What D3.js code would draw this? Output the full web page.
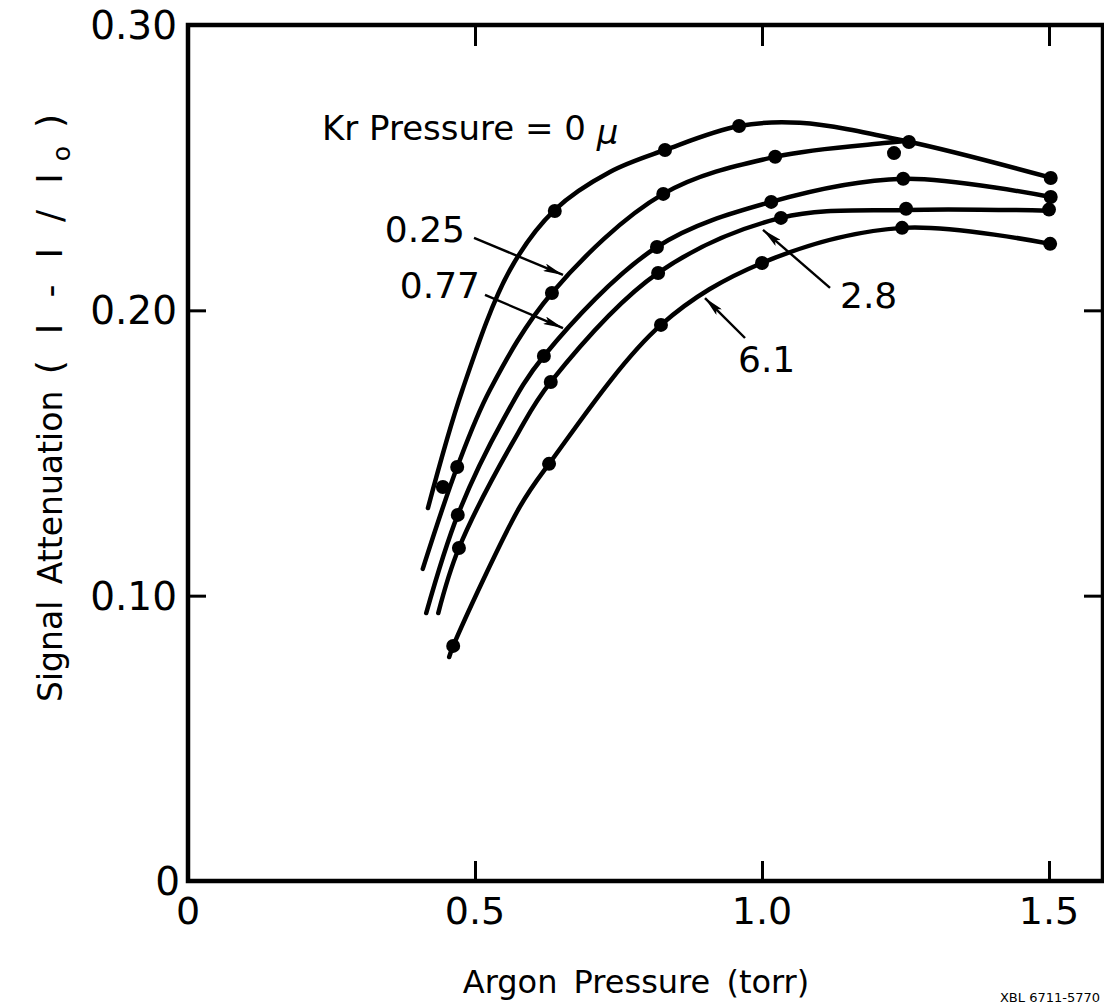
<!DOCTYPE html>
<html><head><meta charset="utf-8">
<script src="https://cdn.jsdelivr.net/npm/d3@7"></script>
<style>
html,body{margin:0;padding:0;background:#fff;}
svg{display:block;}
text{font-family:"DejaVu Sans",sans-serif;fill:#000;}
</style></head>
<body>
<svg id="chart" width="1104" height="1005"></svg>
<script>
// ---- data (Argon pressure in torr, signal attenuation 1 - I/I0) ----
const xTickValues = [0, 0.5, 1.0, 1.5];
const xTickLabels = ["0", "0.5", "1.0", "1.5"];
const yTickValues = [0, 0.10, 0.20, 0.30];
const yTickLabels = ["0", "0.10", "0.20", "0.30"];
const seriesNames = ["0", "0.25", "0.77", "2.8", "6.1"]; // Kr pressure (μ)

// fitted curves (drawn lines)
const kr0Curve   = [[0.418,0.1307],[0.478,0.1721],[0.561,0.2142],[0.639,0.2352],[0.735,0.2485],[0.831,0.2562],[0.960,0.2646],[1.066,0.2657],[1.256,0.2591],[1.503,0.2465]];
const kr025Curve = [[0.409,0.1094],[0.469,0.1451],[0.526,0.1721],[0.634,0.2061],[0.828,0.2408],[1.023,0.2538],[1.218,0.2587],[1.256,0.2594]];
const kr077Curve = [[0.415,0.0939],[0.470,0.1283],[0.549,0.1616],[0.620,0.1840],[0.817,0.2222],[1.016,0.2380],[1.246,0.2461],[1.503,0.2397]];
const kr28Curve  = [[0.436,0.0939],[0.472,0.1167],[0.575,0.1570],[0.632,0.1749],[0.819,0.2131],[1.033,0.2324],[1.251,0.2352],[1.500,0.2349]];
const kr61Curve  = [[0.455,0.0785],[0.462,0.0824],[0.578,0.1311],[0.629,0.1462],[0.824,0.1949],[1.000,0.2166],[1.244,0.2289],[1.502,0.2233]];

// measured points (dots)
const kr0Points   = [[0.444,0.1381],[0.639,0.2348],[0.831,0.2562],[0.960,0.2646],[1.256,0.2590],[1.503,0.2464]];
const kr025Points = [[0.469,0.1451],[0.634,0.2061],[0.828,0.2408],[1.023,0.2538],[1.230,0.2551]];
const kr077Points = [[0.470,0.1283],[0.620,0.1840],[0.817,0.2222],[1.016,0.2380],[1.246,0.2461],[1.503,0.2397]];
const kr28Points  = [[0.472,0.1167],[0.632,0.1749],[0.819,0.2131],[1.033,0.2324],[1.251,0.2356],[1.500,0.2353]];
const kr61Points  = [[0.462,0.0824],[0.629,0.1462],[0.824,0.1949],[1.000,0.2166],[1.244,0.2289],[1.502,0.2233]];

// curve labels: [text, textX, textY, anchor, arrowFromX, arrowFromY, arrowToX, arrowToY]
const curveLabels = [
  ["0.25", 0.4826, 0.2240, "end",   0.4983, 0.2254, 0.6533, 0.2124],
  ["0.77", 0.5087, 0.2043, "end",   0.5174, 0.2054, 0.6533, 0.1938],
  ["2.8",  1.1359, 0.2008, "start", 1.1185, 0.2079, 1.0017, 0.2282],
  ["6.1",  0.9582, 0.1784, "start", 0.9704, 0.1903, 0.9007, 0.2043]
];
const krLabelPos = [0.2334, 0.2597];

// ---- layout ----
const svg = d3.select("#chart");
const pLeft = 188, pRight = 1103, pTop = 25, pBottom = 881;
const x = d3.scaleLinear().domain([0, 1.5]).range([pLeft, 1049]);
const y = d3.scaleLinear().domain([0, 0.30]).range([pBottom, pTop]);

svg.append("rect").attr("width", 1104).attr("height", 1005).attr("fill", "#fff");

// defs: arrowhead
svg.append("defs").append("marker")
  .attr("id", "arr").attr("viewBox", "0 0 20 8").attr("refX", 20).attr("refY", 4)
  .attr("markerWidth", 20).attr("markerHeight", 8).attr("markerUnits", "userSpaceOnUse")
  .attr("orient", "auto")
  .append("path").attr("d", "M0,0 L20,4 L0,8 L4,4 Z").attr("fill", "#000");

// frame
svg.append("rect").attr("x", pLeft).attr("y", pTop).attr("width", pRight - pLeft).attr("height", pBottom - pTop)
  .attr("fill", "none").attr("stroke", "#000").attr("stroke-width", 4.5);

// axes with inward ticks
const axB = d3.axisBottom(x).tickValues(xTickValues.slice(1)).tickSize(-20).tickFormat("");
const axT = d3.axisTop(x).tickValues(xTickValues.slice(1)).tickSize(-21).tickFormat("");
const axL = d3.axisLeft(y).tickValues(yTickValues.slice(1, 3)).tickSize(-18).tickFormat("");
const axR = d3.axisRight(y).tickValues(yTickValues.slice(1, 3)).tickSize(-19).tickFormat("");
function styleAxis(g){ g.select(".domain").remove(); g.selectAll(".tick line").attr("stroke","#000").attr("stroke-width",3); }
svg.append("g").attr("transform", `translate(0,${pBottom})`).call(axB).call(styleAxis);
svg.append("g").attr("transform", `translate(0,${pTop})`).call(axT).call(styleAxis);
svg.append("g").attr("transform", `translate(${pLeft},0)`).call(axL).call(styleAxis);
svg.append("g").attr("transform", `translate(${pRight},0)`).call(axR).call(styleAxis);

// tick labels
svg.append("g").selectAll("text").data(xTickValues).join("text")
  .attr("x", d => x(d)).attr("y", 924).attr("text-anchor", "middle")
  .attr("font-size", 38).text((d, i) => xTickLabels[i]);
svg.append("g").selectAll("text").data(yTickValues).join("text")
  .attr("x", (d, i) => i === 0 ? 180 : 177).attr("y", d => y(d) + 14).attr("text-anchor", "end")
  .attr("font-size", 39).text((d, i) => yTickLabels[i]);

// axis titles
svg.append("text").attr("x", 636).attr("y", 993).attr("text-anchor", "middle")
  .attr("font-size", 32).attr("word-spacing", 6).text("Argon Pressure (torr)");
const yt = svg.append("text").attr("transform", "translate(62,702) rotate(-90)")
  .attr("font-size", 33).attr("word-spacing", 6);
yt.append("tspan").text("Signal Attenuation ");
yt.append("tspan").attr("font-size", 36).attr("letter-spacing", 26).text("(I-I/I");
yt.append("tspan").attr("font-size", 25).attr("dx", -14).attr("dy", 8).attr("letter-spacing", 18).text("o");
yt.append("tspan").attr("font-size", 36).attr("dy", -8).text(")");

// curves
const line = d3.line().x(d => x(d[0])).y(d => y(d[1])).curve(d3.curveCatmullRom.alpha(0.5));
const curves = [kr0Curve, kr025Curve, kr077Curve, kr28Curve, kr61Curve];
const points = [kr0Points, kr025Points, kr077Points, kr28Points, kr61Points];
svg.append("g").selectAll("path").data(curves).join("path")
  .attr("d", line).attr("fill", "none").attr("stroke", "#000")
  .attr("stroke-width", 4.5).attr("stroke-linecap", "round");
svg.append("g").selectAll("g").data(points).join("g")
  .selectAll("circle").data(d => d).join("circle")
  .attr("cx", d => x(d[0])).attr("cy", d => y(d[1])).attr("r", 7).attr("fill", "#000");

// labels
const kr = svg.append("text").attr("x", x(krLabelPos[0])).attr("y", y(krLabelPos[1])).attr("font-size", 34);
kr.append("tspan").text("Kr Pressure = " + seriesNames[0] + " ");
kr.append("tspan").attr("font-style", "italic").attr("dy", 4).text("μ");

const lg = svg.append("g");
curveLabels.forEach(c => {
  lg.append("text").attr("x", x(c[1])).attr("y", y(c[2])).attr("text-anchor", c[3])
    .attr("font-size", 36).text(c[0]);
  lg.append("line").attr("x1", x(c[4])).attr("y1", y(c[5])).attr("x2", x(c[6])).attr("y2", y(c[7]))
    .attr("stroke", "#000").attr("stroke-width", 2.4).attr("marker-end", "url(#arr)");
});

// drawing number (at bottom edge)
svg.append("text").attr("x", 1100).attr("y", 1002).attr("text-anchor", "end")
  .attr("font-size", 13).text("XBL 6711-5770");
</script>
</body></html>
